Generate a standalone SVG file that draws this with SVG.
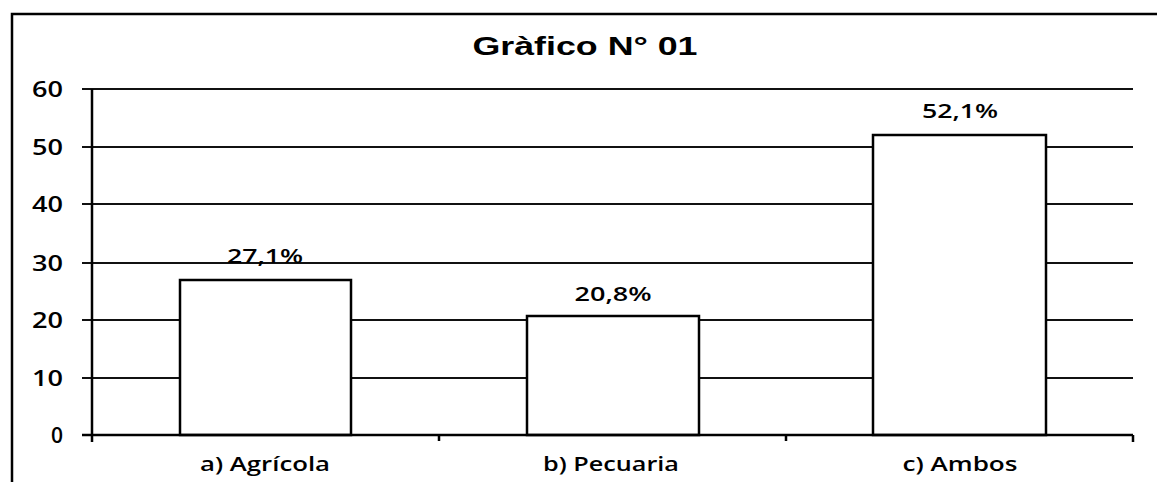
<svg xmlns="http://www.w3.org/2000/svg" width="1157" height="482" viewBox="0 0 1157 482">
<style>
.frame{fill:none;stroke:#000;stroke-width:2.5}
.grid{stroke:#111;stroke-width:2}
.axis{stroke:#000;stroke-width:2.5;fill:none}
.bar{fill:#fff;stroke:#000;stroke-width:2.5}
.t{font-family:"Open Sans","Liberation Sans",sans-serif;fill:#000}
.ylab{font-size:21px;font-weight:600;text-anchor:end}
.val{font-size:20px;font-weight:600;text-anchor:middle}
.cat{font-size:20px;font-weight:600;text-anchor:middle}
.title{font-family:"Liberation Sans",Arial,sans-serif;font-weight:bold;font-size:26px;text-anchor:middle;fill:#000}
</style>
<rect x="0" y="0" width="1157" height="482" fill="#fff"/>
<path class="frame" d="M12,482 V14 H1157"/>
<text class="title" x="585" y="55" textLength="225" lengthAdjust="spacingAndGlyphs">Gràfico N° 01</text>
<g id="gridlines">
<line class="grid" x1="82" y1="89" x2="1133" y2="89"/>
<line class="grid" x1="82" y1="147" x2="1133" y2="147"/>
<line class="grid" x1="82" y1="204" x2="1133" y2="204"/>
<line class="grid" x1="82" y1="263" x2="1133" y2="263"/>
<line class="grid" x1="82" y1="320" x2="1133" y2="320"/>
<line class="grid" x1="82" y1="378" x2="1133" y2="378"/>
</g>
<g id="y-labels" class="t">
<text class="t ylab" x="63" y="97" textLength="31" lengthAdjust="spacingAndGlyphs">60</text>
<text class="t ylab" x="63" y="155" textLength="31" lengthAdjust="spacingAndGlyphs">50</text>
<text class="t ylab" x="63" y="212" textLength="31" lengthAdjust="spacingAndGlyphs">40</text>
<text class="t ylab" x="63" y="271" textLength="31" lengthAdjust="spacingAndGlyphs">30</text>
<text class="t ylab" x="63" y="328" textLength="31" lengthAdjust="spacingAndGlyphs">20</text>
<text class="t ylab" x="63" y="386" textLength="31" lengthAdjust="spacingAndGlyphs">10</text>
<text class="t ylab" x="63" y="443">0</text>
</g>
<g id="bar-a">
<rect class="bar" x="180" y="280" width="171" height="155"/>
<text class="t val" x="265" y="263" textLength="76" lengthAdjust="spacingAndGlyphs">27,1%</text>
<text class="t cat" x="265" y="471" textLength="130" lengthAdjust="spacingAndGlyphs">a) Agrícola</text>
</g>
<g id="bar-b">
<rect class="bar" x="527" y="316" width="172" height="119"/>
<text class="t val" x="613" y="301" textLength="77" lengthAdjust="spacingAndGlyphs">20,8%</text>
<text class="t cat" x="611" y="471" textLength="136" lengthAdjust="spacingAndGlyphs">b) Pecuaria</text>
</g>
<g id="bar-c">
<rect class="bar" x="873" y="135" width="173" height="300"/>
<text class="t val" x="960" y="118" textLength="76" lengthAdjust="spacingAndGlyphs">52,1%</text>
<text class="t cat" x="960" y="471" textLength="115" lengthAdjust="spacingAndGlyphs">c) Ambos</text>
</g>
<g id="axes">
<path class="axis" d="M92,89 V442"/>
<path class="axis" d="M82,435 H1133"/>
<path class="axis" d="M439,435 V441 M786,435 V441 M1133,435 V442"/>
</g>
</svg>
